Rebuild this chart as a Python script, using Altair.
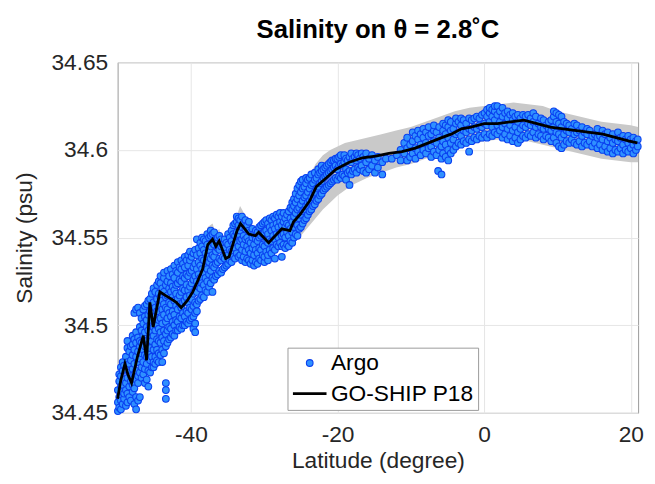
import altair as alt
import pandas as pd

FONT = "Liberation Sans"
SERIES = ["Argo", "GO-SHIP P18"]

# GO-SHIP P18 section (latitude, salinity)
ship_lat = [-50.0, -49.6, -49.0, -48.6, -48.1, -47.3, -46.5, -46.05, -45.6, -45.15,
            -44.24, -43.5, -42.7, -42.0, -41.33, -40.5, -39.75, -39.0, -38.4, -37.7,
            -37.05, -36.6, -36.15, -35.26, -34.8, -33.7, -33.24, -32.1, -31.2, -30.76,
            -29.4, -28.5, -27.6, -26.5, -26.0, -25.15, -23.8, -22.9, -21.55, -20.2,
            -18.4, -16.6, -14.8, -13.0, -11.2, -9.4, -7.6, -5.8, -4.5, -3.1,
            -1.8, 0.0, 1.8, 3.6, 5.4, 7.2, 9.0, 10.8, 12.6, 14.4,
            16.2, 18.0, 19.8, 20.9]
ship_sal = [34.458, 34.468, 34.478, 34.472, 34.467, 34.482, 34.494, 34.480, 34.513, 34.499,
            34.519, 34.517, 34.515, 34.513, 34.510, 34.514, 34.519, 34.526, 34.532, 34.546,
            34.549, 34.545, 34.548, 34.538, 34.539, 34.554, 34.558, 34.552, 34.551, 34.553,
            34.547, 34.551, 34.555, 34.554, 34.559, 34.563, 34.571, 34.579, 34.584, 34.589,
            34.593, 34.5955, 34.5965, 34.598, 34.599, 34.601, 34.604, 34.607, 34.609, 34.612,
            34.613, 34.615, 34.615, 34.616, 34.617, 34.615, 34.613, 34.612, 34.611, 34.610,
            34.609, 34.607, 34.605, 34.604]

# gray envelope (latitude, lower, upper)
band_lat = [-50, -49, -48.1, -47.3, -46.5, -46.05, -45.6, -45.15, -44.2, -43.5,
            -42.0, -41.3, -39.75, -38.4, -37.7, -37.05, -36.6, -36.15, -35.26, -34.8,
            -33.7, -33.3, -32.1, -31.2, -30.76, -29.4, -28.5, -27.6, -27, -26,
            -25, -24, -23, -22, -21, -20, -19, -18, -16, -14,
            -12, -10, -8, -6, -4, -2, 0, 2, 4, 6,
            8, 10, 12, 14, 16, 18, 20, 21]
band_lo = [34.455, 34.474, 34.463, 34.478, 34.489, 34.476, 34.508, 34.495, 34.514, 34.512,
           34.509, 34.506, 34.515, 34.528, 34.541, 34.545, 34.541, 34.544, 34.534, 34.535,
           34.550, 34.553, 34.548, 34.547, 34.549, 34.543, 34.547, 34.548, 34.545, 34.547,
           34.551, 34.556, 34.561, 34.566, 34.570, 34.574, 34.577, 34.580, 34.584, 34.587,
           34.590, 34.592, 34.595, 34.598, 34.601, 34.603, 34.605, 34.606, 34.606, 34.605,
           34.603, 34.601, 34.599, 34.597, 34.595, 34.594, 34.593, 34.593]
band_hi = [34.462, 34.482, 34.472, 34.488, 34.500, 34.486, 34.518, 34.505, 34.526, 34.524,
           34.518, 34.515, 34.524, 34.540, 34.556, 34.558, 34.552, 34.555, 34.543, 34.545,
           34.563, 34.568, 34.559, 34.556, 34.558, 34.553, 34.557, 34.561, 34.562, 34.568,
           34.575, 34.584, 34.592, 34.597, 34.600, 34.602, 34.604, 34.605, 34.607, 34.609,
           34.611, 34.613, 34.616, 34.619, 34.622, 34.624, 34.625, 34.626, 34.627, 34.626,
           34.625, 34.622, 34.620, 34.618, 34.616, 34.615, 34.614, 34.613]

# Argo profiles: (latitude, [salinities])
argo_rows = [
    (-49.96, [34.451, 34.456, 34.463]),
    (-49.78, [34.453, 34.459, 34.468, 34.472]),
    (-49.55, [34.452, 34.457, 34.465, 34.471, 34.476]),
    (-49.31, [34.455, 34.462, 34.466, 34.474, 34.479]),
    (-49.12, [34.458, 34.461, 34.469, 34.477]),
    (-48.87, [34.454, 34.463, 34.467, 34.475, 34.482]),
    (-48.66, [34.456, 34.461, 34.470, 34.479, 34.487, 34.491]),
    (-48.41, [34.459, 34.465, 34.473, 34.478, 34.485]),
    (-48.19, [34.457, 34.468, 34.471, 34.480, 34.488]),
    (-47.95, [34.462, 34.466, 34.475, 34.483, 34.489, 34.494]),
    (-47.72, [34.455, 34.464, 34.472, 34.478, 34.486, 34.492, 34.507]),
    (-47.48, [34.452, 34.459, 34.469, 34.474, 34.482, 34.490, 34.496, 34.509]),
    (-47.21, [34.457, 34.467, 34.471, 34.479, 34.485, 34.493, 34.510]),
    (-46.97, [34.459, 34.473, 34.481, 34.488, 34.491, 34.499, 34.507]),
    (-46.74, [34.470, 34.476, 34.484, 34.490, 34.497, 34.504]),
    (-46.50, [34.472, 34.479, 34.486, 34.494, 34.501, 34.509]),
    (-46.28, [34.467, 34.475, 34.483, 34.488, 34.496, 34.505, 34.511]),
    (-46.03, [34.469, 34.478, 34.482, 34.491, 34.499, 34.503, 34.512]),
    (-45.81, [34.465, 34.474, 34.485, 34.489, 34.497, 34.506, 34.514]),
    (-45.57, [34.473, 34.480, 34.487, 34.493, 34.500, 34.508, 34.515]),
    (-45.33, [34.476, 34.482, 34.491, 34.496, 34.503, 34.511, 34.518]),
    (-45.10, [34.476, 34.479, 34.486, 34.494, 34.499, 34.507, 34.513, 34.521]),
    (-44.86, [34.478, 34.482, 34.489, 34.497, 34.505, 34.510, 34.519]),
    (-44.62, [34.480, 34.486, 34.492, 34.500, 34.508, 34.515, 34.523]),
    (-44.39, [34.479, 34.484, 34.491, 34.498, 34.503, 34.512, 34.518, 34.525]),
    (-44.15, [34.483, 34.490, 34.496, 34.504, 34.511, 34.516, 34.524, 34.528]),
    (-43.91, [34.479, 34.486, 34.493, 34.501, 34.509, 34.514, 34.521]),
    (-43.68, [34.484, 34.491, 34.497, 34.506, 34.512, 34.519, 34.527, 34.530]),
    (-43.42, [34.458, 34.463, 34.467, 34.488, 34.495, 34.502, 34.510, 34.516, 34.523]),
    (-43.20, [34.490, 34.497, 34.504, 34.509, 34.517, 34.525, 34.531]),
    (-42.97, [34.492, 34.499, 34.507, 34.513, 34.521, 34.528]),
    (-42.73, [34.493, 34.498, 34.505, 34.512, 34.519, 34.524, 34.532]),
    (-42.49, [34.495, 34.502, 34.508, 34.516, 34.522, 34.529]),
    (-42.26, [34.494, 34.500, 34.506, 34.514, 34.520, 34.527, 34.534]),
    (-42.02, [34.497, 34.503, 34.511, 34.518, 34.523, 34.531]),
    (-41.79, [34.497, 34.502, 34.509, 34.515, 34.524, 34.530, 34.536]),
    (-41.55, [34.499, 34.505, 34.512, 34.517, 34.526, 34.533]),
    (-41.31, [34.498, 34.504, 34.510, 34.519, 34.525, 34.532, 34.537]),
    (-41.08, [34.500, 34.507, 34.513, 34.521, 34.528, 34.535]),
    (-40.84, [34.500, 34.505, 34.514, 34.520, 34.527, 34.533, 34.539]),
    (-40.60, [34.502, 34.508, 34.516, 34.523, 34.529, 34.537]),
    (-40.37, [34.501, 34.507, 34.513, 34.520, 34.528, 34.534, 34.540]),
    (-40.13, [34.503, 34.510, 34.517, 34.522, 34.530, 34.537, 34.542]),
    (-39.90, [34.504, 34.509, 34.515, 34.524, 34.531, 34.539]),
    (-39.66, [34.498, 34.505, 34.511, 34.518, 34.526, 34.533, 34.541]),
    (-39.42, [34.496, 34.501, 34.507, 34.513, 34.520, 34.528, 34.535, 34.543]),
    (-39.19, [34.508, 34.512, 34.519, 34.525, 34.532, 34.540, 34.549]),
    (-38.95, [34.514, 34.522, 34.529, 34.536, 34.544]),
    (-38.72, [34.515, 34.521, 34.527, 34.534, 34.541, 34.547]),
    (-38.48, [34.517, 34.524, 34.532, 34.538, 34.545, 34.550]),
    (-38.24, [34.516, 34.523, 34.530, 34.537, 34.543, 34.549]),
    (-38.01, [34.520, 34.527, 34.533, 34.541, 34.548]),
    (-37.77, [34.519, 34.525, 34.532, 34.539, 34.546, 34.552]),
    (-37.53, [34.522, 34.529, 34.536, 34.543, 34.550]),
    (-37.30, [34.524, 34.531, 34.538, 34.545, 34.551, 34.554]),
    (-37.06, [34.519, 34.527, 34.534, 34.540, 34.547, 34.552]),
    (-36.83, [34.526, 34.533, 34.539, 34.546, 34.553]),
    (-36.59, [34.528, 34.535, 34.542, 34.549]),
    (-36.35, [34.529, 34.536, 34.544, 34.550]),
    (-36.12, [34.531, 34.538, 34.543, 34.551]),
    (-35.88, [34.530, 34.537, 34.545, 34.549]),
    (-35.64, [34.532, 34.539, 34.546]),
    (-35.41, [34.533, 34.538, 34.544, 34.549]),
    (-35.17, [34.534, 34.541, 34.547]),
    (-34.93, [34.535, 34.540, 34.546, 34.552]),
    (-34.70, [34.537, 34.543, 34.550]),
    (-34.46, [34.536, 34.542, 34.548, 34.554]),
    (-34.22, [34.539, 34.546, 34.552, 34.557]),
    (-33.99, [34.538, 34.544, 34.551, 34.558]),
    (-33.75, [34.541, 34.547, 34.553, 34.559, 34.562]),
    (-33.51, [34.539, 34.545, 34.552, 34.557, 34.561]),
    (-33.28, [34.540, 34.548, 34.554, 34.560]),
    (-33.04, [34.537, 34.543, 34.549, 34.556, 34.562]),
    (-32.81, [34.539, 34.546, 34.551, 34.558]),
    (-32.57, [34.536, 34.542, 34.549, 34.555, 34.560]),
    (-32.33, [34.538, 34.545, 34.550, 34.557]),
    (-32.10, [34.537, 34.543, 34.548, 34.554, 34.559]),
    (-31.86, [34.535, 34.541, 34.547, 34.553]),
    (-31.62, [34.537, 34.544, 34.550, 34.555]),
    (-31.39, [34.534, 34.540, 34.546, 34.552]),
    (-31.15, [34.536, 34.543, 34.549, 34.554]),
    (-30.91, [34.535, 34.541, 34.548, 34.553]),
    (-30.68, [34.538, 34.544, 34.550, 34.556]),
    (-30.44, [34.537, 34.543, 34.551, 34.557]),
    (-30.20, [34.540, 34.546, 34.552, 34.558]),
    (-29.97, [34.536, 34.539, 34.545, 34.553, 34.559]),
    (-29.73, [34.542, 34.548, 34.554, 34.560]),
    (-29.49, [34.537, 34.540, 34.547, 34.552, 34.558]),
    (-29.26, [34.543, 34.549, 34.556, 34.561]),
    (-29.02, [34.541, 34.548, 34.554, 34.560]),
    (-28.78, [34.544, 34.551, 34.557, 34.562]),
    (-28.55, [34.538, 34.543, 34.549, 34.555, 34.561]),
    (-28.31, [34.546, 34.552, 34.558, 34.563]),
    (-28.07, [34.545, 34.550, 34.556, 34.562]),
    (-27.84, [34.547, 34.553, 34.559, 34.564]),
    (-27.60, [34.539, 34.545, 34.551, 34.557, 34.562]),
    (-27.36, [34.546, 34.552, 34.559, 34.564]),
    (-27.13, [34.544, 34.550, 34.556, 34.561]),
    (-26.89, [34.546, 34.553, 34.558, 34.563]),
    (-26.65, [34.545, 34.551, 34.557, 34.565]),
    (-26.42, [34.548, 34.555, 34.561, 34.567]),
    (-26.18, [34.547, 34.553, 34.559, 34.566, 34.570]),
    (-25.94, [34.550, 34.556, 34.562, 34.568, 34.572]),
    (-25.71, [34.552, 34.558, 34.564, 34.570, 34.575]),
    (-25.47, [34.551, 34.557, 34.566, 34.572, 34.578]),
    (-25.23, [34.555, 34.561, 34.567, 34.574, 34.580]),
    (-25.00, [34.556, 34.563, 34.569, 34.576, 34.582]),
    (-24.76, [34.558, 34.565, 34.571, 34.578, 34.583]),
    (-24.52, [34.560, 34.566, 34.573, 34.579]),
    (-24.29, [34.561, 34.568, 34.574, 34.581, 34.584]),
    (-24.05, [34.563, 34.570, 34.576, 34.583]),
    (-23.81, [34.565, 34.571, 34.578, 34.584]),
    (-23.58, [34.566, 34.573, 34.580, 34.586]),
    (-23.34, [34.568, 34.575, 34.581]),
    (-23.10, [34.569, 34.576, 34.583, 34.587]),
    (-22.87, [34.571, 34.578, 34.584]),
    (-22.63, [34.572, 34.579, 34.586, 34.589]),
    (-22.39, [34.574, 34.581, 34.587]),
    (-22.16, [34.575, 34.582, 34.588, 34.591]),
    (-21.92, [34.577, 34.584, 34.589]),
    (-21.68, [34.578, 34.585, 34.590]),
    (-21.45, [34.579, 34.586, 34.591]),
    (-21.21, [34.580, 34.587, 34.592]),
    (-20.97, [34.581, 34.588, 34.593]),
    (-20.74, [34.582, 34.589, 34.594]),
    (-20.50, [34.583, 34.590, 34.594]),
    (-20.26, [34.584, 34.591, 34.595]),
    (-20.03, [34.583, 34.589, 34.595]),
    (-19.79, [34.585, 34.591, 34.596]),
    (-19.55, [34.584, 34.592, 34.597]),
    (-19.32, [34.586, 34.591]),
    (-19.08, [34.585, 34.593, 34.597]),
    (-18.84, [34.583, 34.589, 34.595]),
    (-18.61, [34.587, 34.594]),
    (-18.37, [34.580, 34.588, 34.596]),
    (-18.13, [34.586, 34.593, 34.598]),
    (-17.90, [34.588, 34.595]),
    (-17.66, [34.589, 34.596]),
    (-17.42, [34.587, 34.594, 34.598]),
    (-17.19, [34.590, 34.597]),
    (-16.95, [34.589, 34.595]),
    (-16.71, [34.591, 34.598]),
    (-16.48, [34.588, 34.596]),
    (-16.10, [34.587, 34.593, 34.598]),
    (-15.70, [34.589, 34.595]),
    (-15.30, [34.591, 34.597]),
    (-14.90, [34.587, 34.594]),
    (-14.50, [34.590, 34.596]),
    (-13.90, [34.586, 34.593]),
    (-13.40, [34.595]),
    (-12.60, [34.595]),
    (-11.90, [34.597]),
    (-11.40, [34.594, 34.600]),
    (-10.90, [34.598, 34.604]),
    (-10.50, [34.594, 34.601, 34.607]),
    (-10.10, [34.596, 34.603]),
    (-9.75, [34.598, 34.605, 34.610]),
    (-9.38, [34.595, 34.601, 34.608]),
    (-9.02, [34.599, 34.606, 34.611]),
    (-8.66, [34.597, 34.603, 34.609]),
    (-8.30, [34.600, 34.607, 34.612]),
    (-7.94, [34.598, 34.604, 34.610]),
    (-7.58, [34.601, 34.608, 34.613]),
    (-7.22, [34.596, 34.602, 34.609]),
    (-6.86, [34.599, 34.605, 34.611, 34.614]),
    (-6.50, [34.597, 34.604, 34.610]),
    (-6.28, [34.588]),
    (-6.14, [34.600, 34.607, 34.613]),
    (-5.82, [34.586, 34.595, 34.602]),
    (-5.60, [34.598, 34.605, 34.611, 34.615]),
    (-5.25, [34.596, 34.603, 34.609, 34.614]),
    (-4.90, [34.594, 34.600, 34.607, 34.613, 34.617]),
    (-4.55, [34.598, 34.604, 34.611, 34.616]),
    (-4.20, [34.600, 34.606, 34.612]),
    (-3.85, [34.602, 34.609, 34.615, 34.618]),
    (-3.50, [34.604, 34.610, 34.616]),
    (-3.15, [34.603, 34.608, 34.614, 34.618]),
    (-2.80, [34.605, 34.611, 34.617]),
    (-2.45, [34.604, 34.610, 34.615]),
    (-2.05, [34.599, 34.606, 34.612, 34.618]),
    (-1.70, [34.605, 34.611, 34.617]),
    (-1.35, [34.607, 34.613, 34.618]),
    (-1.00, [34.606, 34.612, 34.619]),
    (-0.65, [34.608, 34.614, 34.618]),
    (-0.30, [34.607, 34.613, 34.620]),
    (0.05, [34.609, 34.615, 34.621]),
    (0.40, [34.607, 34.614, 34.619, 34.623]),
    (0.75, [34.609, 34.616, 34.621, 34.624]),
    (1.10, [34.608, 34.613, 34.619, 34.623]),
    (1.45, [34.610, 34.617, 34.622, 34.625]),
    (1.80, [34.609, 34.614, 34.620, 34.625]),
    (2.15, [34.611, 34.616, 34.622]),
    (2.50, [34.607, 34.613, 34.619, 34.624]),
    (2.85, [34.609, 34.615, 34.621]),
    (3.20, [34.606, 34.612, 34.618, 34.622]),
    (3.55, [34.608, 34.614, 34.620]),
    (3.90, [34.605, 34.611, 34.617, 34.621]),
    (4.25, [34.607, 34.613, 34.619]),
    (4.60, [34.604, 34.610, 34.616, 34.620]),
    (4.95, [34.606, 34.612, 34.618]),
    (5.30, [34.608, 34.614, 34.620]),
    (5.65, [34.607, 34.613, 34.619]),
    (6.00, [34.609, 34.615, 34.620]),
    (6.35, [34.608, 34.614, 34.618]),
    (6.70, [34.610, 34.616, 34.621]),
    (7.05, [34.607, 34.613, 34.619]),
    (7.40, [34.609, 34.615]),
    (7.75, [34.608, 34.613, 34.618]),
    (8.10, [34.606, 34.612, 34.617]),
    (8.45, [34.608, 34.614]),
    (8.80, [34.607, 34.612, 34.616]),
    (9.15, [34.605, 34.611, 34.617]),
    (9.50, [34.607, 34.613, 34.619, 34.622]),
    (9.85, [34.604, 34.610, 34.616, 34.621]),
    (10.20, [34.602, 34.609, 34.615, 34.620]),
    (10.55, [34.601, 34.607, 34.613, 34.619]),
    (10.90, [34.603, 34.609, 34.616]),
    (11.25, [34.605, 34.611, 34.615]),
    (11.60, [34.604, 34.610, 34.614]),
    (11.95, [34.606, 34.612]),
    (12.30, [34.604, 34.609, 34.615]),
    (12.65, [34.603, 34.610, 34.614]),
    (13.00, [34.605, 34.611]),
    (13.35, [34.602, 34.608, 34.613]),
    (13.70, [34.604, 34.610]),
    (14.05, [34.603, 34.609, 34.612]),
    (14.40, [34.605, 34.611]),
    (14.75, [34.602, 34.608]),
    (15.10, [34.604, 34.609]),
    (15.45, [34.601, 34.607, 34.612]),
    (15.80, [34.603, 34.608]),
    (16.15, [34.600, 34.606, 34.611]),
    (16.50, [34.602, 34.609]),
    (16.85, [34.599, 34.605, 34.610]),
    (17.20, [34.601, 34.607]),
    (17.55, [34.598, 34.604, 34.609]),
    (17.90, [34.600, 34.606]),
    (18.25, [34.599, 34.605, 34.610]),
    (18.60, [34.601, 34.607]),
    (18.95, [34.598, 34.603, 34.608]),
    (19.30, [34.600, 34.606]),
    (19.65, [34.599, 34.604, 34.608]),
    (20.00, [34.601, 34.606]),
    (20.35, [34.598, 34.603, 34.607]),
    (20.70, [34.600, 34.605]),
    (20.95, [34.602, 34.606]),
]

argo_df = pd.DataFrame(
    [{"lat": la, "sal": s, "series": "Argo"} for la, vals in argo_rows for s in vals]
)
ship_df = pd.DataFrame({"lat": ship_lat, "sal": ship_sal})
band_df = pd.DataFrame({"lat": band_lat, "lo": band_lo, "hi": band_hi})

X_DOMAIN = [-50, 21]
Y_DOMAIN = [34.45, 34.65]
X_TICKS = [-40, -20, 0, 20]
Y_TICKS = [34.45, 34.5, 34.55, 34.6, 34.65]

xscale = alt.Scale(domain=X_DOMAIN, nice=False, zero=False)
yscale = alt.Scale(domain=Y_DOMAIN, nice=False, zero=False)
xaxis = alt.Axis(values=X_TICKS, title="Latitude (degree)", labelExpr="toString(datum.value)")
yaxis = alt.Axis(values=Y_TICKS, title="Salinity (psu)", format=".2~f")

band = alt.Chart(band_df).mark_area(color="#c9c9c9", opacity=1).encode(
    x=alt.X("lat:Q", scale=xscale, axis=xaxis),
    y=alt.Y("lo:Q", scale=yscale, axis=yaxis),
    y2="hi:Q",
)

legend = alt.Legend(
    title=None, orient="none", legendX=172, legendY=289,
    labelFont=FONT, labelFontSize=23, labelColor="#000000",
    fillColor="white", strokeColor="#9a9a9a", padding=4,
    rowPadding=0, labelOffset=3, symbolOpacity=1,
)
pts = alt.Chart(argo_df).mark_point(filled=True, opacity=1, clip=False).encode(
    x=alt.X("lat:Q", scale=xscale),
    y=alt.Y("sal:Q", scale=yscale),
    color=alt.Color("series:N", scale=alt.Scale(domain=SERIES, range=["#2f90ff", "#000000"]), legend=legend),
    shape=alt.Shape("series:N", scale=alt.Scale(domain=SERIES, range=["circle", "stroke"]), legend=legend),
    size=alt.Size("series:N", scale=alt.Scale(domain=SERIES, range=[46, 1156]), legend=legend),
    stroke=alt.Stroke("series:N", scale=alt.Scale(domain=SERIES, range=["#0a40f0", "#000000"]), legend=legend),
    strokeWidth=alt.StrokeWidth("series:N", scale=alt.Scale(domain=SERIES, range=[1.1, 2.8]), legend=legend),
)

line = alt.Chart(ship_df).mark_line(color="black", strokeWidth=2.8).encode(
    x=alt.X("lat:Q", scale=xscale),
    y=alt.Y("sal:Q", scale=yscale),
)

chart = alt.layer(band, pts, line).properties(
    width=527, height=355,
    title=alt.TitleParams("Salinity on θ = 2.8˚C", font=FONT, fontSize=26, fontWeight="bold",
                          color="#000000", anchor="middle", offset=9),
    autosize=alt.AutoSizeParams(type="none"),
    padding={"left": 111, "top": 52, "right": 9, "bottom": 61},
).configure_view(stroke="#999999", strokeWidth=1).configure_axis(
    labelFont=FONT, labelFontSize=23, labelColor="#262626",
    titleFont=FONT, titleFontSize=23, titleColor="#262626", titleFontWeight="normal",
    grid=True, gridColor="#e6e6e6", gridWidth=1, domain=False, ticks=False,
).configure_axisX(labelPadding=11, titlePadding=3).configure_axisY(labelPadding=10, titlePadding=15)

chart.save("out.html", embed_options={"renderer": "svg", "actions": False})
